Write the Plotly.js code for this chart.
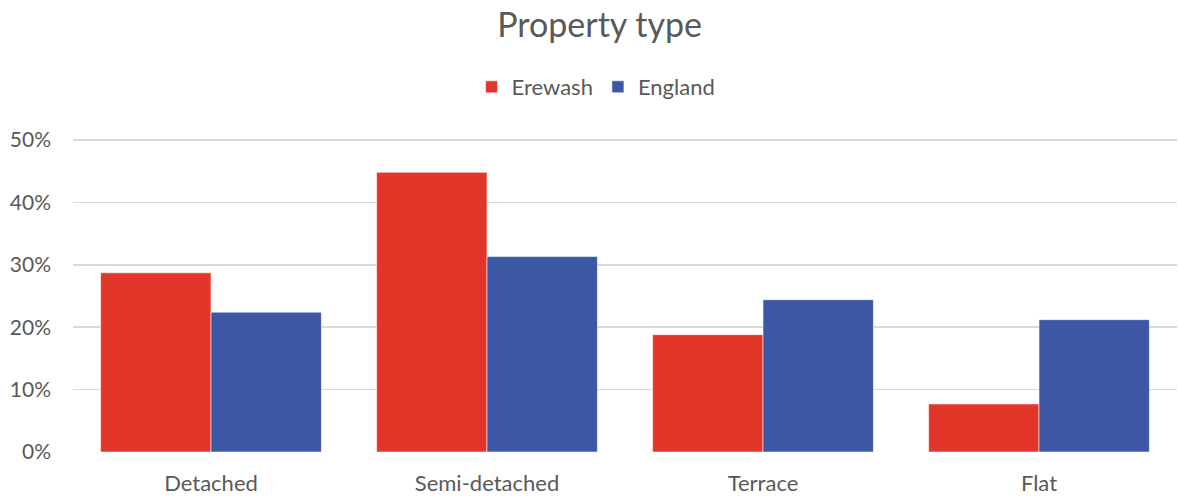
<!DOCTYPE html>
<html>
<head>
<meta charset="utf-8">
<script src="https://cdn.plot.ly/plotly-3.0.1.min.js"></script>
<style>html,body{margin:0;padding:0;background:#fff;}#chart{width:1178px;height:497px;}</style>
</head>
<body>
<div id="chart"></div>
<script>
const categories = ["Detached", "Semi-detached", "Terrace", "Flat"];
const erewash = [0.287, 0.448, 0.188, 0.077];
const england = [0.224, 0.313, 0.244, 0.212];
const seriesNames = ["Erewash", "England"];
const yTickVals = [0, 0.1, 0.2, 0.3, 0.4, 0.5];

const FONT = "Lato, Carlito, 'Open Sans', sans-serif";
const TXT = "#595959";

const traces = [
  {type: "bar", name: seriesNames[0], x: categories, y: erewash,
   marker: {color: "#E3362A", line: {color: "rgba(255,255,255,0.7)", width: 0.8}}, hoverinfo: "skip"},
  {type: "bar", name: seriesNames[1], x: categories, y: england,
   marker: {color: "#3C58A4", line: {color: "rgba(255,255,255,0.7)", width: 0.8}}, hoverinfo: "skip"}
];

const layout = {
  width: 1178, height: 497,
  margin: {l: 73, r: 1, t: 138, b: 45},
  paper_bgcolor: "#fff", plot_bgcolor: "#fff",
  font: {family: FONT, color: TXT, size: 21},
  title: {text: "Property type", font: {family: FONT, size: 34, color: TXT},
          xref: "container", x: 0.509, xanchor: "center",
          yref: "container", y: 1 - 25/497, yanchor: "middle"},
  showlegend: true,
  legend: {orientation: "h", xref: "container", x: 0.506, xanchor: "center",
           yref: "container", y: 1 - 87/497, yanchor: "middle",
           font: {family: FONT, size: 22, color: TXT}, itemwidth: 20, traceorder: "normal"},
  barmode: "group", bargap: 0.2, bargroupgap: 0,
  xaxis: {showgrid: false, zeroline: false, showline: false, ticks: "",
          tickfont: {family: FONT, size: 22, color: TXT}, ticklabelstandoff: 16, fixedrange: true},
  yaxis: {range: [0, 0.503], tickvals: yTickVals, tickformat: ".0%", showgrid: true,
          gridcolor: "#D9D9D9", gridwidth: 1.6, zeroline: false, showline: false, ticks: "",
          tickfont: {family: FONT, size: 21, color: TXT}, ticklabelstandoff: 21, fixedrange: true}
};

Plotly.newPlot("chart", traces, layout, {displayModeBar: false, staticPlot: true});
</script>
</body>
</html>
